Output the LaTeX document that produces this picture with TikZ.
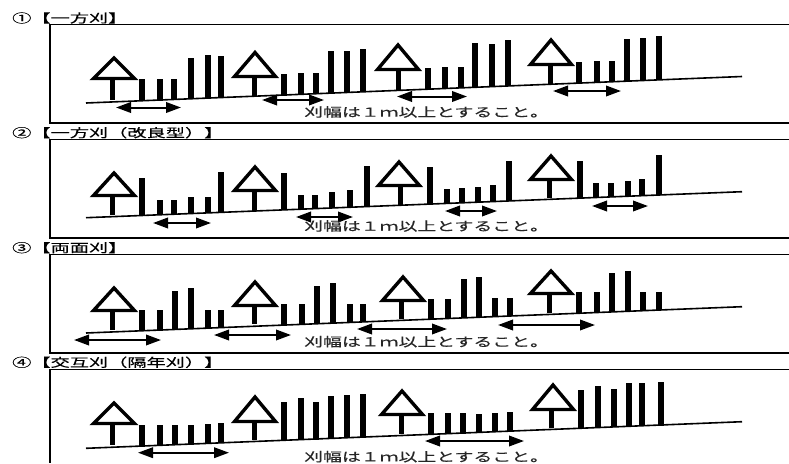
\documentclass[tikz,border=0pt]{standalone}
\usepackage{fontspec}
\usepackage{graphicx}
\usetikzlibrary{arrows.meta}
\newfontfamily\jp[FakeBold=0.35]{Noto Sans CJK JP}
\tikzset{
  panelline/.style={line width=1.2pt,black},
  groundline/.style={line width=1.6pt,black},
  barstroke/.style={line width=5.6pt,black},
  trunkstroke/.style={line width=5pt,black},
  crownshape/.style={line width=3.4pt,black,fill=white,miter limit=10},
  widtharrow/.style={line width=2pt,black,{Triangle[length=15pt,width=10.5pt]}-{Triangle[length=15pt,width=10.5pt]}},
  headtext/.style={anchor=west,inner sep=0pt,font=\jp\fontsize{12}{12}\selectfont},
  notetext/.style={anchor=west,inner sep=0pt,font=\jp\fontsize{12.5}{12.5}\selectfont,text=black!85}
}
% apex x, apex y, base y, trunk x, trunk end y
\newcommand{\mytree}[5]{%
  \draw[trunkstroke] (#4,#3) -- (#4,#5);
  \draw[crownshape] (#1,#2+3) -- (#1-20.5,#3-1.5) -- (#1+20.5,#3-1.5) -- cycle;
}
% ground y at x=86, list of x/top
\newcommand{\mybars}[2]{%
  \foreach \bx/\bt in {#2}{
    \draw[barstroke] (\bx,\bt) -- (\bx,{#1-(\bx-86)*0.0404+0.5});
  }
}
\begin{document}
\begin{tikzpicture}[x=1pt,y=-1pt]
\useasboundingbox (0,0) rectangle (789,463);
\fill[white] (0,0) rectangle (789,463);

% panel frames
\draw[panelline] (789,24.5) -- (50,24.5) -- (50,123) -- (789,123);
\draw[panelline] (789,139.5) -- (50,139.5) -- (50,238) -- (789,238);
\draw[panelline] (789,254.7) -- (50,254.7) -- (50,353) -- (789,353);
\draw[panelline] (789,369.5) -- (50,369.5) -- (50,463);

% headings
\node[headtext] (h1) at (12,18) {\scalebox{1.6}[1]{①【一方刈】}};
\node[headtext] (h2) at (12,132.7) {\scalebox{1.6}[1]{②【一方刈（改良型）】}};
\node[headtext] (h3) at (12,247.7) {\scalebox{1.6}[1]{③【両面刈】}};
\node[headtext] (h4) at (12,362.3) {\scalebox{1.6}[1]{④【交互刈（隔年刈）】}};

% panel 1
\mybars{103}{142/79.3,160/79.3,174/79,191/58,208/55,221/56,284/74,301/73,316/73,331/51,347/51,363/49,428/68,445/67,461/67,475/43,492/44,508/40,579/62,597/61,612/61,627/39,643/38,659/36}
\draw[groundline] (86,103) -- (742,76.5);
\mytree{114}{55}{80}{112}{100}
\mytree{255}{49.5}{78}{254}{96}
\mytree{398}{42}{71}{398}{90}
\mytree{551}{37}{66}{550}{84}
\draw[widtharrow] (116,107.5) -- (181,107.5);
\draw[widtharrow] (262,100) -- (324,100);
\draw[widtharrow] (397,96.5) -- (467,96.5);
\draw[widtharrow] (553,91) -- (621,91);
\node[notetext] (n1) at (304,112) {\scalebox{1.51}[1]{刈幅は１ｍ以上とすること。}};

% panel 2
\mybars{217.7}{142/178,160/200,174/200,191/197,208/197,221/172,284/173,301/195,315/195,332/192,350/190,367/166,430/167,447/189,462/188,478/187,493/185,509/161,580/161,596/183,611/183,628/181,642/179,659/155}
\draw[groundline] (86,217.7) -- (742,191.7);
\mytree{114}{170}{197}{112}{215}
\mytree{255}{164}{192}{254}{211}
\mytree{399}{159}{187}{400}{205}
\mytree{551}{153}{181}{549}{198}
\draw[widtharrow] (153,223) -- (211,223);
\draw[widtharrow] (296,217) -- (353,217);
\draw[widtharrow] (445,211) -- (497,211);
\draw[widtharrow] (592,206) -- (648,206);
\node[notetext] (n2) at (304,226) {\scalebox{1.51}[1]{刈幅は１ｍ以上とすること。}};

% panel 3
\mybars{333}{142/310,160/310,175/291,191/288,208/310,221/310,284/304,302/304,317/286,333/283,350/304,363/304,431/299,448/299,464/279,479/277,495/298,510/298,579/292,597/292,612/273,628/271,643/292,659/292}
\draw[groundline] (86,333) -- (742,306.7);
\mytree{114}{285}{312}{112}{330}
\mytree{255}{279}{307}{254}{324}
\mytree{403}{274}{302}{401}{319}
\mytree{551}{268}{295}{549}{313}
\draw[widtharrow] (74,340) -- (161,340);
\draw[widtharrow] (214,335) -- (291,335);
\draw[widtharrow] (357,329) -- (447,329);
\draw[widtharrow] (498,325) -- (595,325);
\node[notetext] (n3) at (304,341.7) {\scalebox{1.51}[1]{刈幅は１ｍ以上とすること。}};

% panel 4
\mybars{448.3}{142/425,160/425,175/425,191/425,208/424,221/423,284/402,301/398,316/402,331/396,347/395,363/394,431/413,448/413,463/413,479/414,495/413,510/412,581/390,598/386,614/389,629/383,642/383,661/382}
\draw[groundline] (86,448.3) -- (742,421.7);
\mytree{114}{400}{425}{112}{445}
\mytree{255}{394}{423}{254}{440}
\mytree{402}{388}{416}{401}{434}
\mytree{553}{382}{411}{551}{428}
\draw[widtharrow] (138,452.7) -- (229,452.7);
\draw[widtharrow] (425,441) -- (524,441);
\node[notetext] (n4) at (304,456.7) {\scalebox{1.51}[1]{刈幅は１ｍ以上とすること。}};
\end{tikzpicture}
\end{document}
